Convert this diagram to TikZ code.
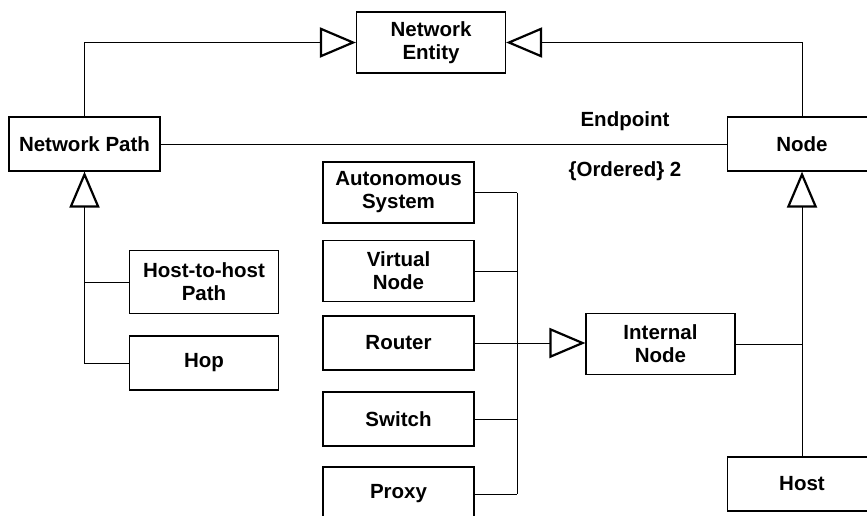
\documentclass[tikz,border=0pt]{standalone}
\usepackage{fontspec}
\setmainfont{Liberation Sans}
\usetikzlibrary{positioning,arrows.meta}

\begin{document}
\begin{tikzpicture}[x=0.5pt,y=-0.5pt,line width=0.5pt,
    every node/.style={font=\fontsize{10.25}{11.5}\selectfont\bfseries},
    box/.style={draw,on grid,line width=0.6pt,align=center,minimum width=74.5pt,minimum height=27pt,inner sep=1pt},
    tall/.style={box,minimum height=30.5pt},
    wide/.style={minimum width=75.5pt},
    inh/.style={-{Triangle[open,length=18pt,width=15pt,line width=1.1pt]}}]
  \useasboundingbox (0,0) rectangle (867,515);
  \clip (0,0) rectangle (867,515);
  \node[tall] (NE) at (431,42.5) {Network\\Entity};
  \node[box,wide] (NP) at (84.5,144) {Network Path};
  \node[box] (Node) at (802,144) {Node};
  \node[box,below=170pt of Node] (Host) {Host};
  \node[tall] (IN) at (660.5,344) {Internal\\Node};
  \node[tall,minimum height=31.5pt] (H2H) at (204,282) {Host-to-host\\Path};
  \node[box,below=40.5pt of H2H] (Hop) {Hop};
  \node[tall,wide] (AS) at (398.5,192.5) {Autonomous\\System};
  \node[tall,wide,below=39.25pt of AS] (VN) {Virtual\\Node};
  \node[box,wide,below=36pt of VN] (Router) {Router};
  \node[box,wide,below=38pt of Router] (Switch) {Switch};
  \node[box,wide,below=37.5pt of Switch] (Proxy) {Proxy};
  \draw[inh] (NP.north) |- (NE.west);
  \draw[inh] (Node.north) |- (NE.east);
  \draw (NP.east) -- node[pos=0.82,above=3pt] {Endpoint} node[pos=0.82,below=5pt] {\{Ordered\} 2} (Node.west);
  \draw[inh] (Hop.west) -| (NP.south);
  \draw (H2H.west) -- (H2H.west -| NP.south);
  \coordinate[right=21.25pt of Router.east] (bus);
  \draw (AS.east -| bus) -- (Proxy.east -| bus);
  \foreach \n in {AS,VN,Switch,Proxy} \draw (\n.east) -- (\n.east -| bus);
  \draw[inh] (Router.east) -- (Router.east -| IN.west);
  \draw[inh] (Host.north) -- (Node.south);
  \draw (IN.east) -- (IN.east -| Node.south);
\end{tikzpicture}
\end{document}
